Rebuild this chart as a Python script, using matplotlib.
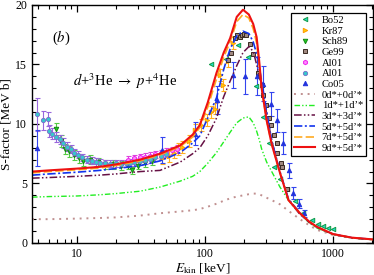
import numpy as np
import matplotlib
matplotlib.use('Agg')
import matplotlib.pyplot as plt
from matplotlib.ticker import FixedLocator, NullFormatter, MultipleLocator

plt.rcParams['font.family'] = ['Liberation Serif', 'DejaVu Serif']
plt.rcParams['mathtext.fontset'] = 'stix'

# ---- experimental data (E in keV, S in MeV b) ----
bo52_E = [111, 146, 182, 215, 250, 285, 317, 348, 385, 434, 505, 582, 680, 764, 836, 912, 993]
bo52_S = [15.0, 15.5, 16.6, 15.6, 13.2, 10.6, 8.4, 6.4, 5.35, 4.5, 3.5, 2.5, 1.9, 1.6, 1.4, 1.25, 1.17]

kr87_E = [46, 52, 57, 62, 66, 75, 83, 93, 103, 112, 120, 132, 138, 150, 165]
kr87_S = [7.1, 7.3, 7.6, 7.9, 8.1, 8.6, 9.5, 9.9, 10.3, 11.0, 11.3, 14.1, 13.3, 15.3, 16.8]
kr87_err = [0.5, 0.5, 0.5, 0.5, 0.5, 0.5, 0.5, 0.5, 0.5, 0.5, 0.5, 0.5, 0.5, 0.5, 0.5]

sch89_E = [6.9, 7.5, 8.0, 8.7, 9.5, 10.3, 11.2, 12.7, 14.5, 16.5, 19, 22, 25, 27, 30, 34, 38.5]
sch89_S = [9.55, 8.6, 7.9, 7.7, 7.4, 7.1, 6.9, 7.0, 6.8, 6.6, 6.6, 6.5, 6.5, 6.1, 6.5, 6.7, 6.85]
sch89_err = [0.5, 0.5, 0.45, 0.45, 0.4, 0.4, 0.4, 0.4, 0.35, 0.35, 0.35, 0.35, 0.3, 0.3, 0.3, 0.3, 0.3]

ge99_E = [150, 161, 170, 177, 188, 193, 200, 210, 225, 237, 260, 277, 285, 301, 317, 327, 345, 362, 367, 392, 400, 434]
ge99_S = [15.4, 16.0, 17.2, 17.5, 17.3, 17.5, 17.6, 17.5, 16.7, 15.9, 14.3, 13.3, 12.4, 11.6, 10.5, 9.9, 9.1, 8.4, 7.6, 6.7, 6.4, 4.5]

al01a_E = [25, 28, 31, 34, 37, 41, 45, 50, 55, 60]
al01a_S = [7.0, 7.1, 7.2, 7.25, 7.35, 7.45, 7.55, 7.65, 7.8, 7.9]
al01a_err = [0.3, 0.3, 0.3, 0.3, 0.3, 0.3, 0.3, 0.3, 0.3, 0.3]

al01b_E = [4.9, 5.4, 5.9, 6.0, 6.4, 6.9, 7.3, 7.8, 8.3, 8.9, 9.5, 10.2, 11, 12, 13, 14, 15,
           16.5, 18, 20, 22, 24, 26, 28, 31, 34, 37, 41, 45, 50]
al01b_S = [10.8, 10.3, 10.4, 9.4, 9.2, 8.9, 8.7, 8.4, 8.1, 7.9, 7.6, 7.4, 7.2, 7.0, 6.9, 6.8, 6.75,
           6.7, 6.65, 6.7, 6.65, 6.7, 6.75, 6.8, 6.85, 6.95, 7.05, 7.2, 7.35, 7.5]
al01b_err = [1.4, 0.8, 0.6, 0.5, 0.5, 0.45, 0.4, 0.4, 0.35, 0.35, 0.3, 0.3, 0.3, 0.3, 0.3, 0.3, 0.3,
             0.3, 0.3, 0.3, 0.3, 0.3, 0.3, 0.3, 0.3, 0.3, 0.3, 0.3, 0.3, 0.3]

co05_E = [4.9, 45.8, 84, 123, 164, 205, 255, 285, 330, 367, 408, 456, 490, 540, 590]
co05_S = [8.0, 7.8, 9.2, 12.0, 14.1, 14.0, 14.0, 13.4, 11.7, 10.3, 8.4, 6.1, 4.2, 3.3, 2.5]
co05_err = [1.5, 1.1, 1.0, 1.2, 1.1, 1.5, 1.6, 1.5, 1.0, 1.0, 0.9, 0.6, 0.5, 0.4, 0.3]

# ---- calculations ----
calc_E = [4.45, 6, 10, 15, 20, 31, 44.5, 64, 80, 91, 105, 123, 140, 157, 177, 198, 220, 238,
          253, 265, 277, 303, 332, 385, 449, 552, 650, 750, 1000, 1400, 2050]
s_0d0d = [2.0, 2.0, 2.05, 2.1, 2.15, 2.3, 2.5, 2.65, 2.75, 2.85, 3.05, 3.3, 3.55, 3.75, 3.9, 4.0,
          4.1, 4.15, 4.15, 4.1, 4.0, 3.8, 3.6, 3.25, 2.7, 2.0, 1.5, 1.1, 0.68, 0.42, 0.3]
s_1d1d = [3.85, 3.9, 3.95, 4.05, 4.15, 4.35, 4.7, 5.2, 5.6, 6.0, 6.7, 7.6, 8.5, 9.3, 10.1, 10.5,
          10.6, 10.1, 9.4, 8.7, 7.9, 6.8, 6.0, 4.7, 3.6, 2.5, 1.7, 1.25, 0.72, 0.42, 0.27]
s_3d3d = [5.45, 5.5, 5.6, 5.7, 5.8, 6.0, 6.1, 6.8, 7.5, 8.0, 9.0, 10.5, 12.3, 13.6, 14.9, 16.0,
          16.5, 16.1, 15.0, 14.1, 13.0, 10.9, 8.6, 5.9, 3.6, 2.4, 1.75, 1.3, 0.73, 0.43, 0.29]
s_5d5d = [5.7, 5.8, 5.95, 6.1, 6.25, 6.5, 6.9, 7.6, 8.4, 9.0, 10.5, 12.2, 14.6, 16.3, 17.4, 17.8,
          17.6, 16.9, 15.9, 14.8, 13.6, 11.0, 8.6, 6.0, 3.7, 2.5, 1.8, 1.35, 0.75, 0.45, 0.3]
s_7d5d = [5.9, 6.0, 6.15, 6.3, 6.5, 6.9, 7.4, 8.1, 8.9, 9.7, 11.4, 13.8, 15.6, 16.9, 18.6, 19.2,
          18.9, 18.0, 16.8, 15.0, 13.0, 10.3, 8.3, 5.9, 3.6, 2.5, 1.8, 1.35, 0.75, 0.45, 0.3]
s_9d5d = [6.0, 6.1, 6.25, 6.4, 6.6, 7.0, 7.5, 8.2, 9.1, 9.9, 11.8, 14.3, 16.0, 17.2, 19.0, 19.6,
          19.2, 18.4, 17.3, 15.3, 13.0, 10.3, 8.3, 5.9, 3.6, 2.5, 1.8, 1.35, 0.75, 0.45, 0.3]

fig = plt.figure(figsize=(3.74, 2.75), dpi=100)
ax = fig.add_axes([0.0856, 0.1164, 0.9115, 0.8655])

eb = dict(fmt='none', capsize=1.8, elinewidth=0.8, capthick=0.8)
ax.errorbar(kr87_E, kr87_S, yerr=kr87_err, ecolor='#ffb020', **eb)
ax.errorbar(sch89_E, sch89_S, yerr=sch89_err, ecolor='#55cc44', **eb)
ax.errorbar(al01a_E, al01a_S, yerr=al01a_err, ecolor='#dd44dd', **eb)
ax.errorbar(al01b_E, al01b_S, yerr=al01b_err, ecolor='#9966dd', **eb)
ax.errorbar(co05_E, co05_S, yerr=co05_err, ecolor='#3344ee', **eb)

ms = 3.2
ax.plot(bo52_E, bo52_S, '<', ls='none', ms=ms, mfc='#22ddcc', mec='#119944', mew=0.7, label='Bo52')
ax.plot(kr87_E, kr87_S, '>', ls='none', ms=ms, mfc='#ffd000', mec='#ff9900', mew=0.7, label='Kr87')
ax.plot(sch89_E, sch89_S, 'v', ls='none', ms=ms, mfc='#22cc22', mec='#118811', mew=0.7, label='Sch89')
ax.plot(ge99_E, ge99_S, 's', ls='none', ms=2.9, mfc='#a08880', mec='#3a2a22', mew=0.7, label='Ge99')
ax.plot(al01a_E, al01a_S, 'h', ls='none', ms=ms, mfc='#ff88ff', mec='#ee22ee', mew=0.7, label='Al01')
ax.plot(al01b_E, al01b_S, 'o', ls='none', ms=3.0, mfc='#33cccc', mec='#7777cc', mew=0.7, label='Al01')
ax.plot(co05_E, co05_S, '^', ls='none', ms=ms, mfc='#2233dd', mec='#2233dd', mew=0.7, label='Co05')

ax.plot(calc_E, s_0d0d, color='#c09090', ls=(0, (1, 2.5)), lw=1.4, label='0d*+0d’*')
ax.plot(calc_E, s_1d1d, color='#22ee22', ls=(0, (4, 1.5, 1, 1.5, 1, 1.5)), lw=1.0, label='1d*+1d’*')
ax.plot(calc_E, s_3d3d, color='#661144', ls=(0, (5, 1.5, 1, 1.5, 1, 1.5)), lw=1.1, label='3d*+3d’*')
ax.plot(calc_E, s_5d5d, color='#1133ee', ls=(0, (5, 1.5, 1.2, 1.5)), lw=1.2, label='5d*+5d’*')
ax.plot(calc_E, s_7d5d, color='#ffaa22', ls=(0, (5, 2)), lw=1.2, label='7d*+5d’*')
ax.plot(calc_E, s_9d5d, color='#ee1111', ls='-', lw=1.5, label='9d*+5d’*')

ax.set_xscale('log')
ax.set_xlim(4.45, 2050)
ax.set_ylim(0, 20)
ax.xaxis.set_major_locator(FixedLocator([10, 100, 1000]))
ax.set_xticklabels(['10', '100', '1000'])
ax.xaxis.set_minor_formatter(NullFormatter())
ax.yaxis.set_major_locator(MultipleLocator(5))
ax.yaxis.set_minor_locator(MultipleLocator(1))
ax.tick_params(which='both', direction='in', top=True, right=True, labelsize=8.5)
ax.tick_params(which='major', length=5, width=0.9)
ax.tick_params(which='minor', length=3, width=0.8)
for s in ax.spines.values():
    s.set_linewidth(1.0)

ax.set_xlabel(r'$E_{\rm kin}$ [keV]', fontsize=9.5, labelpad=1)
ax.set_ylabel('S-factor [MeV b]', fontsize=9.5, labelpad=2)

ax.text(0.06, 0.86, r'($b$)', transform=ax.transAxes, fontsize=10.5, va='center')
ax.text(0.12, 0.68, r'$d$+$^3$He $\rightarrow$ $p$+$^4$He', transform=ax.transAxes,
        fontsize=10.5, va='center')

leg = ax.legend(loc='upper right', bbox_to_anchor=(0.98, 0.968), fontsize=7.6, numpoints=1,
                handlelength=2.0, handletextpad=0.6, labelspacing=0.12, borderpad=0.3,
                fancybox=False, framealpha=1, edgecolor='black', borderaxespad=0)
leg.get_frame().set_linewidth(0.9)

fig.savefig('out.png', dpi=100)
